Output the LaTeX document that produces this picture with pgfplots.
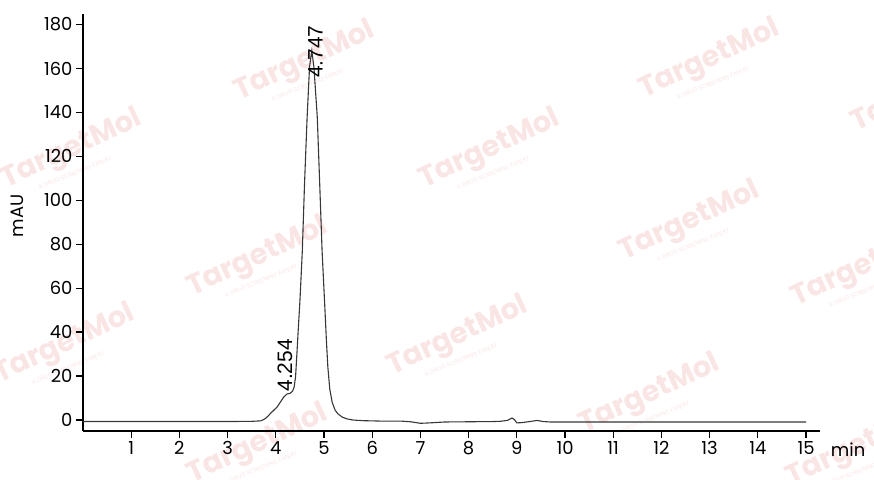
\documentclass[border=0pt]{standalone}
\usepackage{pgfplots}
\pgfplotsset{compat=1.18}
\usepackage{fontspec}
\setmainfont{Poppins}
\newfontfamily\annfont{Liberation Sans}
\definecolor{wm}{RGB}{250,229,229}
\definecolor{trace}{RGB}{55,55,55}

\pgfplotstableread{
t      mau
0.00  -0.7
1.00  -0.7
2.00  -0.7
3.00  -0.7
3.50  -0.6
3.68  -0.4
3.74   0.1
3.79   0.8
3.84   1.8
3.89   3.0
3.96   4.5
4.03   6.0
4.10   8.3
4.17  10.6
4.23  11.8
4.30  12.2
4.35  13.2
4.38  15.0
4.41  19.7
4.44  31.0
4.47  43.0
4.50  54.0
4.55  77.0
4.595 107.0
4.65  138.0
4.70  160.8
4.747 168.0
4.79  160.8
4.86  138.0
4.91  108.0
4.96  77.0
5.02  50.0
5.05  36.0
5.08  24.0
5.12  14.0
5.17   8.0
5.23   4.5
5.29   2.8
5.38   1.3
5.48   0.5
5.60   0.0
5.80  -0.3
6.20  -0.5
6.60  -0.5
6.80  -0.8
7.00  -1.5
7.20  -1.3
7.50  -0.9
8.00  -0.8
8.50  -0.7
8.65  -0.6
8.80  -0.2
8.90   0.9
8.95   0.2
9.00  -1.3
9.10  -1.2
9.30  -0.6
9.42  -0.2
9.55  -0.7
9.70  -0.9
10.0  -0.9
11.0  -0.9
12.0  -0.9
13.0  -0.9
14.0  -0.9
15.0  -0.9
}\chrom

\begin{document}
\begin{tikzpicture}[x=1bp,y=1bp]
% faint watermark behind the trace
\begin{scope}
\clip (-83,-49) rectangle (791,431);
\foreach \px/\py in {305/62, 710/60, 72/150, 490/150, 922/93, 258/258, 690/222,
                     65/345, 458/337, 862/268, 258/445, 650/395, 857/448}{
  \node[text=wm, rotate=25, inner sep=0, font=\fontsize{29}{29}\selectfont\bfseries]
    at (\px-83, 431-\py) {TargetMol};
  \node[text=wm, rotate=22, inner sep=0, font=\fontsize{6}{6}\selectfont]
    at (\px-80, 408-\py) {A DRUG SCREENING EXPERT};
}
\end{scope}

\begin{axis}[
  at={(0,0)}, anchor=south west,
  scale only axis, width=737bp, height=417bp,
  xmin=0, xmax=15.29, ymin=-5, ymax=184.8,
  axis x line*=bottom, axis y line*=left,
  axis line style={-, line width=1.8bp, black},
  xtick={1,...,15}, ytick={0,20,...,180},
  tick align=outside, major tick length=7bp,
  tick style={line width=1.3bp, black},
  ticklabel style={font=\fontsize{18}{18}\selectfont},
  /pgf/number format/assume math mode=true,
  clip=false,
]
\addplot[trace, line width=1.1bp] table[x=t, y=mau] {\chrom};
\node[rotate=90, anchor=west, inner sep=0, font=\annfont\fontsize{21}{21}\selectfont]
  at (axis cs:4.19,12.9) {4.254};
\node[rotate=90, anchor=west, inner sep=0, font=\annfont\fontsize{21}{21}\selectfont]
  at (axis cs:4.82,155.7) {4.747};
\end{axis}

\node[rotate=90, font=\fontsize{18}{18}\selectfont] at (-65.5,215) {mAU};
\node[anchor=base west, inner sep=0, font=\fontsize{18}{18}\selectfont] at (747.7,-25.7) {min};

\pgfresetboundingbox
\useasboundingbox (-83,-49) rectangle (791,431);
\end{tikzpicture}
\end{document}
